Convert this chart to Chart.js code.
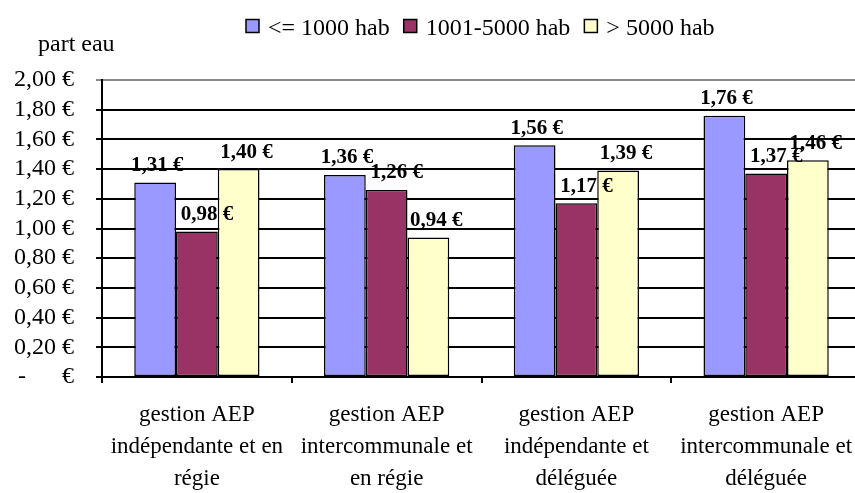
<!DOCTYPE html>
<html lang="fr">
<head>
<meta charset="utf-8">
<title>part eau</title>
<script src="https://cdn.jsdelivr.net/npm/chart.js@4.4.1/dist/chart.umd.min.js"></script>
<style>
  html, body { margin: 0; padding: 0; background: #fff; overflow: hidden; }
  #wrap { position: relative; width: 880px; height: 493px; }
</style>
</head>
<body>
<div id="wrap"><canvas id="chart"></canvas></div>
<script>
// --- DONNÉES ---
const categories = [
    ['gestion AEP', 'indépendante et en', 'régie'],
    ['gestion AEP', 'intercommunale et', 'en régie'],
    ['gestion AEP', 'indépendante et', 'déléguée'],
    ['gestion AEP', 'intercommunale et', 'déléguée']
];
const seriesNames = ['<= 1000 hab', '1001-5000 hab', '> 5000 hab'];
const moins1000 = [1.31, 1.36, 1.56, 1.76];
const de1001a5000 = [0.98, 1.26, 1.17, 1.37];
const plus5000 = [1.40, 0.94, 1.39, 1.46];
const yMin = 0, yMax = 2, yStep = 0.2;
const yTitle = 'part eau';

const FONT = '"Liberation Serif", "Times New Roman", serif';
const colors = ['#9999FF', '#993366', '#FFFFCC'];
const labelShift = [2, 10, 8]; // décalage horizontal des étiquettes

// format comptable Excel
function euro(v) {
    if (Math.abs(v) < 1e-9) return '-      €';
    return v.toFixed(2).replace('.', ',') + ' €';
}

// --- PLUGINS ---
const valueLabels = {
    id: 'valueLabels',
    afterDatasetsDraw(chart) {
        const ctx = chart.ctx;
        ctx.save();
        ctx.font = 'bold 21px ' + FONT;
        ctx.fillStyle = '#000';
        ctx.textAlign = 'center';
        ctx.textBaseline = 'middle';
        chart.data.datasets.forEach((ds, i) => {
            chart.getDatasetMeta(i).data.forEach((bar, j) => {
                ctx.fillText(euro(ds.data[j]), bar.x + labelShift[i], bar.y - 17);
            });
        });
        ctx.restore();
    }
};

const topLegend = {
    id: 'topLegend',
    afterDraw(chart) {
        const ctx = chart.ctx;
        ctx.save();
        ctx.font = '24px ' + FONT;
        ctx.textBaseline = 'alphabetic';
        let x = 246;
        chart.data.datasets.forEach(ds => {
            ctx.fillStyle = ds.backgroundColor;
            ctx.fillRect(x, 19.5, 13, 13);
            ctx.strokeStyle = '#000';
            ctx.lineWidth = 1.5;
            ctx.strokeRect(x, 19.5, 13, 13);
            ctx.fillStyle = '#000';
            ctx.fillText(ds.label, x + 22, 35);
            x += 22 + ctx.measureText(ds.label).width + 14;
        });
        ctx.fillText(yTitle, 38, 51);
        ctx.restore();
    }
};

// --- GRAPHIQUE ---
new Chart(document.getElementById('chart'), {
    type: 'bar',
    data: {
        labels: categories,
        datasets: [
            { label: seriesNames[0], data: moins1000, backgroundColor: colors[0] },
            { label: seriesNames[1], data: de1001a5000, backgroundColor: colors[1] },
            { label: seriesNames[2], data: plus5000, backgroundColor: colors[2] }
        ].map(d => Object.assign(d, {
            borderColor: '#000',
            borderWidth: 1.5,
            borderSkipped: false,
            barPercentage: 1,
            categoryPercentage: 0.66
        }))
    },
    options: {
        responsive: true,
        maintainAspectRatio: false,
        animation: false,
        layout: { padding: { top: 80, right: 19, left: 0, bottom: 0 } },
        plugins: {
            legend: { display: false },
            tooltip: { enabled: false }
        },
        scales: {
            x: {
                afterFit: s => { s.height = 116; },
                grid: { display: true, drawOnChartArea: false, offset: true, color: '#000', lineWidth: 2, tickLength: 6 },
                border: { color: '#000', width: 2 },
                ticks: {
                    color: '#000',
                    padding: 16,
                    maxRotation: 0,
                    autoSkip: false,
                    font: { family: FONT, size: 23, lineHeight: '32px' }
                }
            },
            y: {
                min: yMin,
                max: yMax,
                afterFit: s => { s.width = 102; },
                grid: {
                    color: c => (c.tick && c.tick.value === yMax ? '#8a8a8a' : '#000'),
                    lineWidth: 2,
                    tickLength: 6
                },
                border: { color: '#000', width: 2 },
                ticks: {
                    stepSize: yStep,
                    autoSkip: false,
                    color: '#000',
                    padding: 22,
                    font: { family: FONT, size: 24 },
                    callback: v => euro(v)
                }
            }
        }
    },
    plugins: [valueLabels, topLegend]
});
</script>
</body>
</html>
